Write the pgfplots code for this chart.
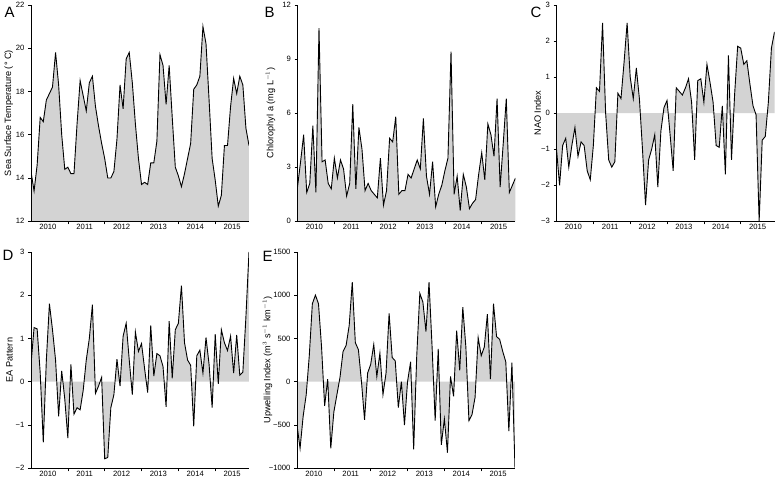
\documentclass[border=0pt]{standalone}
\usepackage{fontspec}
\setmainfont{Liberation Sans}
\usepackage{pgfplots}
\pgfplotsset{compat=1.18}
\usepackage{pgfplotstable}
\definecolor{fillgray}{RGB}{211,211,211}
\pgfplotstableread{
sst chl nao ea upw
14.3 1.9 -1.0 0.4 -500
13.4 3.3 -2.0 1.25 -770
14.6 4.8 -0.9 1.22 -400
16.8 1.6 -0.7 0.2 -150
16.6 2.1 -1.5 -1.4 300
17.6 5.3 -0.9 0.5 900
17.9 1.6 -0.4 1.8 1000
18.2 10.7 -1.2 1.2 900
19.8 3.3 -0.8 0.5 400
18.3 3.4 -0.9 -0.8 -280
16.0 2.1 -1.6 0.25 30
14.4 1.8 -1.85 -0.4 -770
14.5 3.5 -0.9 -1.3 -350
14.2 2.4 0.7 0.4 -150
14.2 3.4 0.6 -0.75 50
16.5 2.9 2.5 -0.6 350
18.5 1.4 0.0 -0.65 420
17.8 2.1 -1.3 -0.2 650
17.1 6.5 -1.5 0.5 1150
18.4 1.8 -1.35 1.0 450
18.7 5.2 0.55 1.78 370
17.3 4.0 0.4 -0.27 0
16.4 1.7 1.4 -0.1 -440
15.6 2.1 2.5 0.1 100
14.9 1.7 1.0 -1.78 200
14.0 1.5 0.4 -1.75 430
14.0 1.3 1.25 -0.6 60
14.3 3.5 0.4 -0.3 330
15.8 0.9 -1.0 0.52 -150
18.3 1.7 -2.55 -0.1 100
17.2 4.6 -1.3 1.05 790
19.5 4.4 -1.0 1.35 280
19.8 5.8 -0.6 0.5 240
18.4 1.5 -2.05 -0.3 -300
16.5 1.7 -0.5 1.15 0
14.9 1.7 0.15 0.7 -500
13.7 2.6 0.35 0.88 0
13.8 2.4 -0.6 0.3 230
13.7 2.9 -1.6 -0.25 -780
14.7 3.4 0.7 1.3 300
14.7 2.9 0.6 0.13 1020
15.7 5.7 0.5 0.65 920
19.7 2.5 0.7 0.6 580
19.2 1.5 0.95 0.35 1150
17.4 3.3 0.3 -0.58 400
19.2 0.8 -1.3 1.4 -450
16.8 1.5 0.9 0.08 380
14.5 2.0 0.95 1.2 -730
14.1 2.8 0.3 1.35 -430
13.6 3.5 1.35 2.22 -820
14.2 9.4 0.85 0.9 60
14.9 1.5 0.3 0.5 -170
15.6 2.5 -0.9 0.38 590
18.1 0.6 -0.95 -1.03 130
18.3 2.6 0.2 0.6 860
18.7 1.9 -1.7 0.73 400
21.0 0.7 1.6 0.2 -450
20.2 1.0 -1.3 1.02 -380
17.6 1.2 0.5 0.4 -180
14.9 2.6 1.85 -0.6 510
13.9 3.8 1.8 1.1 300
12.7 2.3 1.35 -0.05 400
13.2 5.4 1.45 1.2 780
15.5 4.8 0.8 0.9 30
15.5 3.6 0.2 0.72 900
17.3 6.8 -0.05 1.05 520
18.6 1.9 -3.0 0.2 490
17.9 4.3 -0.75 1.08 350
18.7 6.8 -0.65 0.15 230
18.3 1.6 0.3 0.22 -570
16.3 2.0 1.8 1.5 220
15.5 2.4 2.25 3.0 -1000
}\data

\pgfplotsset{panel/.style={
  scale only axis, width=218bp, height=216.5bp,
  xmin=0, xmax=71,
  axis lines*=left,
  axis on top,
  axis line style={line width=0.5bp, -},
  tick align=outside,
  xtick={5.5,17.5,29.5,41.5,53.5,65.5},
  xticklabels={2010,2011,2012,2013,2014,2015},
  minor xtick={12,24,36,48,60},
  major x tick style={draw=none},
  minor tick length=3bp,
  major tick length=3bp,
  tick style={line width=0.5bp, black},
  tick label style={font=\fontsize{7.7}{9}\selectfont},
  xticklabel style={inner sep=0pt, anchor=north, yshift=0.5bp},
  /pgf/number format/assume math mode=true,
  /pgf/number format/1000 sep={},
  ylabel style={font=\fontsize{9.2}{11}\selectfont, anchor=center},
  anchor=south west,
}}

\begin{document}
\begin{tikzpicture}
\useasboundingbox (0,0) rectangle (779bp,-478bp);
% A
\begin{axis}[panel, at={(31bp,-221.3bp)}, ymin=12, ymax=22, ytick={12,14,...,22},
  ylabel={Sea Surface Temperature (° C)},
  ylabel style={at={(axis description cs:-0.102,0.5)}}]
\addplot[fill=fillgray, draw=none] table[x expr=\coordindex, y=sst]{\data} \closedcycle;
\addplot[black, line width=0.9bp] table[x expr=\coordindex, y=sst]{\data};
\end{axis}
% B
\begin{axis}[panel, at={(297.5bp,-221.3bp)}, ymin=0, ymax=12, ytick={0,3,...,12},
  ylabel={Chlorophyl a (mg L$^{-1}$)},
  ylabel style={at={(axis description cs:-0.124,0.5)}}]
\addplot[fill=fillgray, draw=none] table[x expr=\coordindex, y=chl]{\data} \closedcycle;
\addplot[black, line width=0.9bp] table[x expr=\coordindex, y=chl]{\data};
\end{axis}
% C
\begin{axis}[panel, at={(556.5bp,-221.3bp)}, ymin=-3, ymax=3, ytick={-3,-2,...,3},
  yticklabels={−3,−2,−1,0,1,2,3},
  ylabel={NAO Index},
  ylabel style={at={(axis description cs:-0.087,0.5)}}]
\addplot[fill=fillgray, draw=none] table[x expr=\coordindex, y=nao]{\data} \closedcycle;
\addplot[black, line width=0.9bp] table[x expr=\coordindex, y=nao]{\data};
\end{axis}
% D
\begin{axis}[panel, at={(31bp,-468.3bp)}, ymin=-2, ymax=3, ytick={-2,-1,...,3},
  yticklabels={−2,−1,0,1,2,3},
  ylabel={EA Pattern},
  ylabel style={at={(axis description cs:-0.098,0.5)}}]
\addplot[fill=fillgray, draw=none] table[x expr=\coordindex, y=ea]{\data} \closedcycle;
\addplot[black, line width=0.9bp] table[x expr=\coordindex, y=ea]{\data};
\end{axis}
% E
\begin{axis}[panel, at={(297bp,-468.3bp)}, ymin=-1000, ymax=1500, ytick={-1000,-500,...,1500},
  yticklabels={−1000,−500,0,500,1000,1500},
  ylabel={Upwelling Index (m$^3$ s$^{-1}$ km$^{-1}$)},
  ylabel style={at={(axis description cs:-0.135,0.5)}}]
\addplot[fill=fillgray, draw=none] table[x expr=\coordindex, y=upw]{\data} \closedcycle;
\addplot[black, line width=0.9bp] table[x expr=\coordindex, y=upw]{\data};
\end{axis}
\tikzset{lett/.style={anchor=base west, inner sep=0pt, font=\fontsize{15}{15}\selectfont}}
\node[lett] at (4.5bp,-17.3bp) {A};
\node[lett] at (264.5bp,-17.3bp) {B};
\node[lett] at (530.5bp,-17.3bp) {C};
\node[lett] at (2.5bp,-260.7bp) {D};
\node[lett] at (262.5bp,-261bp) {E};
\end{tikzpicture}
\end{document}
